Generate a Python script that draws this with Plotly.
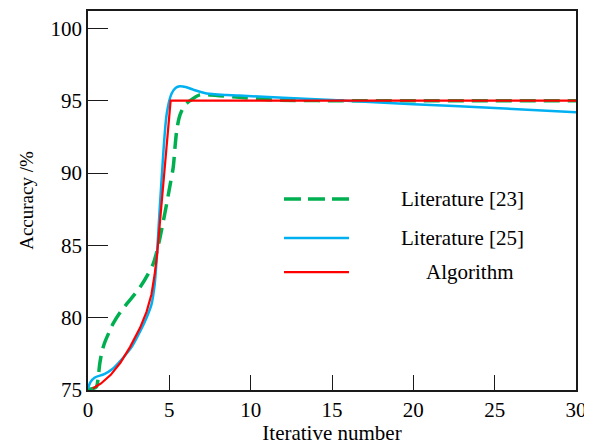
import plotly.graph_objects as go

# ---- data ----
x_algorithm = [0.3, 0.8, 1.4, 2.0, 2.6, 3.2, 3.6, 3.9, 4.1, 4.25, 5.08, 30]
y_algorithm = [75.1, 75.45, 76.05, 76.9, 78.0, 79.3, 80.4, 81.6, 83.0, 84.4, 95.0, 95.0]

x_lit25 = [0, 0.15, 0.4, 1.0, 1.5, 2.17, 2.7, 3.18, 3.6, 3.9, 4.1, 4.2, 4.3, 4.52,
           4.84, 5.14, 5.4, 5.65, 6.0, 6.5, 7.3, 8.5, 9.3, 12, 15, 20, 25, 30]
y_lit25 = [75.1, 75.55, 75.85, 76.1, 76.45, 77.25, 78.0, 79.0, 80.0, 80.9, 82.3, 83.7,
           85.5, 89.5, 94.1, 95.5, 95.9, 96.0, 95.95, 95.75, 95.5, 95.4, 95.35, 95.2,
           95.05, 94.75, 94.5, 94.2]

x_lit23 = [0, 0.5, 0.62, 0.72, 0.85, 1.0, 1.3, 1.55, 2.0, 2.38, 3.2, 4.0, 4.32, 4.6,
           4.84, 5.05, 5.24, 5.35, 5.45, 5.6, 5.76, 6.0, 6.27, 6.87, 7.5, 9.1, 11.4,
           15, 30]
y_lit23 = [75.05, 75.2, 75.8, 76.8, 77.6, 78.2, 79.0, 79.6, 80.4, 80.95, 82.1, 83.7,
           85.0, 86.5, 87.9, 89.2, 90.4, 91.8, 92.9, 93.8, 94.3, 94.75, 95.0, 95.4,
           95.4, 95.25, 95.05, 95.0, 95.0]

series_names = ["Literature [23]", "Literature [25]", "Algorithm"]
x_ticks = [0, 5, 10, 15, 20, 25, 30]
y_ticks = [75, 80, 85, 90, 95, 100]

GREEN = "#00B050"
BLUE = "#00B0F0"
RED = "#FF0000"
FONT = "Liberation Serif, Times New Roman, serif"

fig = go.Figure()
fig.add_trace(go.Scatter(x=x_lit23, y=y_lit23, mode="lines", name=series_names[0],
                         line=dict(color=GREEN, width=3.5, dash="16px,8px",
                                   shape="spline", smoothing=0.8)))
fig.add_trace(go.Scatter(x=x_lit25, y=y_lit25, mode="lines", name=series_names[1],
                         line=dict(color=BLUE, width=2.5, shape="spline", smoothing=0.8)))
fig.add_trace(go.Scatter(x=x_algorithm, y=y_algorithm, mode="lines", name=series_names[2],
                         line=dict(color=RED, width=2.2)))

# legend drawn as paper-positioned samples + labels (matches reference layout)
legend_rows = [
    (0.504, GREEN, 3.5, "17px,7px", 0.768),
    (0.401, BLUE, 2.5, "solid", 0.768),
    (0.311, RED, 2.2, "solid", 0.783),
]
for (yy, col, w, dash, tx), name in zip(legend_rows, series_names):
    fig.add_shape(type="line", xref="paper", yref="paper", x0=0.4016, x1=0.5348,
                  y0=yy, y1=yy, line=dict(color=col, width=w, dash=dash))
    fig.add_annotation(xref="paper", yref="paper", x=tx, y=yy, text=name,
                       showarrow=False, xanchor="center", yanchor="middle",
                       font=dict(family=FONT, size=21, color="black"))

axis_common = dict(showline=True, linecolor="#1a1a1a", linewidth=1.6, mirror=True,
                   ticks="inside", tickcolor="#1a1a1a", tickwidth=1.3,
                   showgrid=False, zeroline=False, automargin=False,
                   tickfont=dict(family=FONT, size=21, color="black"))

fig.update_xaxes(range=[0, 30], tickvals=x_ticks, ticklen=15,
                 title=dict(text="Iterative number", font=dict(family=FONT, size=21, color="black"),
                            standoff=5),
                 **axis_common)
fig.update_yaxes(range=[75, 101.2], tickvals=y_ticks, ticklen=20,
                 title=dict(text="Accuracy /%", font=dict(family=FONT, size=19, color="black"),
                            standoff=12),
                 **axis_common)

# page body has an 8px margin, so the figure is sized to fit the 592x445 window
fig.update_layout(width=584, height=437, showlegend=False,
                  margin=dict(l=80, r=16, t=3, b=55),
                  paper_bgcolor="white", plot_bgcolor="white")

fig.write_html("out.html")
